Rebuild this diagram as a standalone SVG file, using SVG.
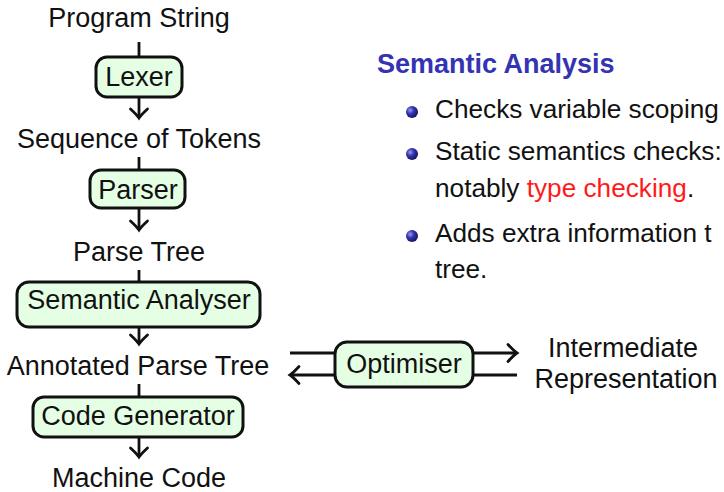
<svg xmlns="http://www.w3.org/2000/svg" width="724" height="492" viewBox="0 0 724 492">
  <style>
    text { font-family: "Liberation Sans", Arial, sans-serif; font-size: 27px; fill: #111; }
    .mid { text-anchor: middle; }
    .note { font-size: 26.2px; }
    .box { fill: #e5ffe5; stroke: #111; stroke-width: 3; }
    .wire { fill: none; stroke: #111; stroke-width: 2.8; }
    .title { font-weight: bold; font-size: 27px; fill: #3333b3; }
    .hl { fill: #ff1a1a; }
  </style>
  <defs>
    <marker id="to" markerUnits="userSpaceOnUse" orient="auto" markerWidth="24" markerHeight="24" viewBox="-12 -12 14 24" refX="0" refY="0" overflow="visible">
      <path d="M -9 -8.5 Q -3 -2 0 0 Q -3 2 -9 8.5" fill="none" stroke="#111" stroke-width="2.8" stroke-linecap="round"/>
    </marker>
    <radialGradient id="ball" cx="0.35" cy="0.35" r="0.7">
      <stop offset="0" stop-color="#9a9ae6"/>
      <stop offset="0.45" stop-color="#3333b3"/>
      <stop offset="1" stop-color="#14145a"/>
    </radialGradient>
  </defs>

  <!-- pipeline data labels -->
  <g id="program-string"><text class="mid" x="139" y="27">Program String</text></g>
  <g id="tokens"><text class="mid" x="139" y="148">Sequence of Tokens</text></g>
  <g id="parse-tree"><text class="mid" x="139" y="261">Parse Tree</text></g>
  <g id="annotated-tree"><text class="mid" x="138" y="375">Annotated Parse Tree</text></g>
  <g id="machine-code"><text class="mid" x="139" y="487">Machine Code</text></g>
  <g id="ir">
    <text class="mid" x="623" y="357">Intermediate</text>
    <text class="mid" x="626" y="388">Representation</text>
  </g>

  <!-- connectors -->
  <g id="connectors">
    <path class="wire" d="M139 42 V57"/>
    <path class="wire" d="M139 97 V118" marker-end="url(#to)"/>
    <path class="wire" d="M139 157 V170"/>
    <path class="wire" d="M139 208 V230" marker-end="url(#to)"/>
    <path class="wire" d="M139 270 V282"/>
    <path class="wire" d="M139 327 V344" marker-end="url(#to)"/>
    <path class="wire" d="M139 384 V397"/>
    <path class="wire" d="M139 437 V457" marker-end="url(#to)"/>
    <path class="wire" d="M290 353 H335"/>
    <path class="wire" d="M473 353 H517" marker-end="url(#to)"/>
    <path class="wire" d="M517 375 H473"/>
    <path class="wire" d="M335 375 H290" marker-end="url(#to)"/>
  </g>

  <!-- processing stages -->
  <g id="lexer">
    <rect class="box" x="96" y="57" width="86" height="40" rx="11"/>
    <text class="mid" x="139" y="86">Lexer</text>
  </g>
  <g id="parser">
    <rect class="box" x="90" y="170" width="95" height="38" rx="11"/>
    <text class="mid" x="138" y="199">Parser</text>
  </g>
  <g id="semantic-analyser">
    <rect class="box" x="17" y="282" width="243" height="45" rx="12"/>
    <text class="mid" x="139" y="309">Semantic Analyser</text>
  </g>
  <g id="code-generator">
    <rect class="box" x="33" y="397" width="210" height="40" rx="11"/>
    <text class="mid" x="138" y="425">Code Generator</text>
  </g>
  <g id="optimiser">
    <rect class="box" x="335" y="342" width="138" height="45" rx="12"/>
    <text class="mid" x="404" y="373">Optimiser</text>
  </g>

  <!-- notes on semantic analysis -->
  <g id="notes">
    <text class="title" x="377" y="73">Semantic Analysis</text>
    <circle cx="412" cy="112" r="6" fill="url(#ball)"/>
    <text class="note" x="435" y="118">Checks variable scoping</text>
    <circle cx="412" cy="154" r="6" fill="url(#ball)"/>
    <text class="note" x="435" y="160">Static semantics checks:</text>
    <text class="note" x="435" y="197">notably <tspan class="hl">type checking</tspan>.</text>
    <circle cx="412" cy="236" r="6" fill="url(#ball)"/>
    <text class="note" x="435" y="242">Adds extra information t</text>
    <text class="note" x="435" y="278">tree.</text>
  </g>
</svg>
